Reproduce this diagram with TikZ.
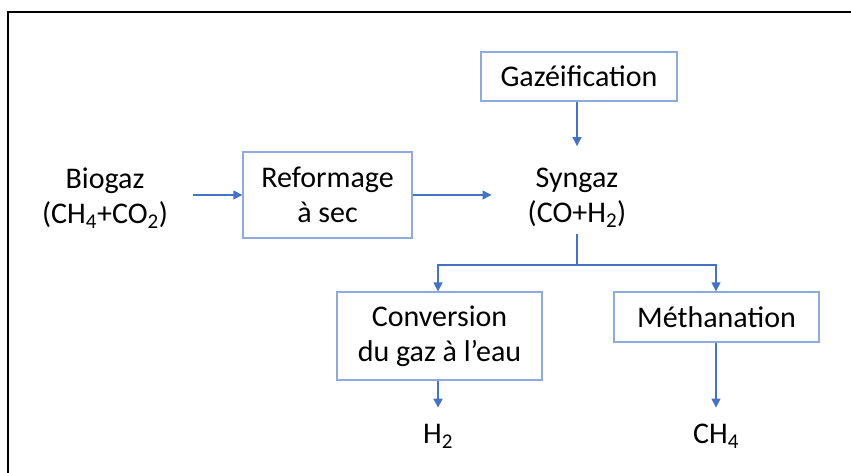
\documentclass[tikz,border=0pt]{standalone}
\usepackage{fontspec}
\setmainfont{Carlito}
\usetikzlibrary{arrows.meta}
\definecolor{boxblue}{HTML}{8FAADC}
\definecolor{arrblue}{HTML}{4472C4}
\newcommand{\boxwd}{1.3pt}

\begin{document}
\begin{tikzpicture}[x=1pt,y=-1pt,
    font=\fontsize{30}{35}\selectfont,
    proc/.style={draw=boxblue, line width=\boxwd, align=center, inner sep=0pt},
    txt/.style={align=center, inner sep=0pt},
    arr/.style={draw=arrblue, line width=1.4pt, -{Triangle[length=9pt,width=9pt]}},
    link/.style={draw=arrblue, line width=1.4pt}]

        \useasboundingbox (0,0) rectangle (851,473);
        % frame, open at right and bottom
        \draw[line width=2.2pt] (8,473) -- (8,12) -- (851,12);

        % L1 : biogaz to syngaz
        \node (bio) at (105,198) [txt] {Biogaz\\(CH\textsubscript{4}+CO\textsubscript{2})};
        \node (ref) at (327.5,195) [proc, minimum width=169pt, minimum height=86pt] {Reformage\\à sec};
        \node (syn) at (577,198) [txt] {Syngaz\\(CO+H\textsubscript{2})};
        \node (gaz) at (579,76.5) [proc, minimum width=196pt, minimum height=49pt] {Gazéification};

        % L2 : products
        \node (conv) at (439.5,336) [proc, minimum width=205pt, minimum height=88pt] {Conversion\\du gaz à l’eau};
        \node (meth) at (716.5,317) [proc, minimum width=205pt, minimum height=50pt] {Méthanation};
        \node (h2) at (438,436) [txt] {H\textsubscript{2}};
        \node (ch4) at (716,436) [txt] {CH\textsubscript{4}};
        \coordinate (split) at (577,265);

        \draw[arr, shorten <=25pt] (bio.east |- ref) to (ref);
        \draw[arr, shorten >=36pt] (ref) to (ref -| syn.west);
        \draw[arr, shorten >=22pt] (gaz.south -| syn) to (syn);
        \draw[link, shorten <=6pt] (syn) to (split);
        \draw[arr] (split) -| (conv.north -| h2);
        \draw[arr] (split) -| (meth.north -| ch4);
        \draw[arr, shorten >=16pt] (conv.south -| h2) to (h2);
        \draw[arr, shorten >=16pt] (meth.south -| ch4) to (ch4);

\end{tikzpicture}
\end{document}
